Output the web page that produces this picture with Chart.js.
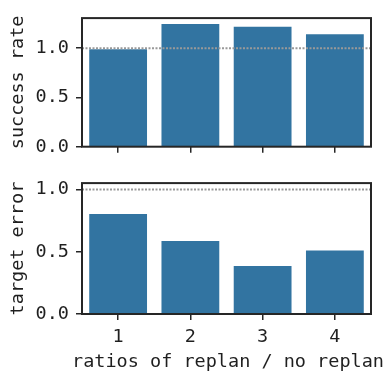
<!DOCTYPE html>
<html>
<head>
<meta charset="utf-8">
<script src="https://cdn.jsdelivr.net/npm/chart.js@4/dist/chart.umd.min.js"></script>
<style>
  html, body { margin: 0; padding: 0; background: #fff; }
  #wrap { position: relative; width: 385px; height: 373px; overflow: hidden; }
  canvas { position: absolute; left: 0; }
</style>
</head>
<body>
<div id="wrap">
  <canvas id="top" width="385" height="165" style="top:0"></canvas>
  <canvas id="bot" width="385" height="208" style="top:165px"></canvas>
</div>
<script>
// ---- data ----
const categories = ['1', '2', '3', '4'];
const successRate = [0.99, 1.245, 1.218, 1.141];
const targetError = [0.802, 0.586, 0.385, 0.509];
const yTickValues = [0, 0.5, 1.0];
const referenceValue = 1.0;
const successMax = 1.305;
const errorMax = 1.051;
const successTitle = 'success rate';
const errorTitle = 'target error';
const xTitle = 'ratios of replan / no replan';

// ---- style ----
const BAR = '#3274a1';
const INK = '#1f1f1f';
const FONT = 'DejaVu Sans Mono';
const FS_TICK = 18.5;
const FS_TITLE = 18.5;
Chart.defaults.font.family = FONT;
Chart.defaults.font.size = FS_TICK;
Chart.defaults.color = INK;

const framePlugin = {
  id: 'frame',
  afterDatasetsDraw(chart) {
    const { ctx, chartArea: a, scales } = chart;
    const y = scales.y.getPixelForValue(referenceValue);
    ctx.save();
    ctx.strokeStyle = '#999999';
    ctx.lineWidth = 2;
    ctx.setLineDash([2, 1.5]);
    ctx.beginPath();
    ctx.moveTo(a.left, y);
    ctx.lineTo(a.right, y);
    ctx.stroke();
    ctx.setLineDash([]);
    ctx.strokeStyle = '#262626';
    ctx.lineWidth = 2;
    ctx.strokeRect(a.left, a.top, a.right - a.left, a.bottom - a.top);
    ctx.restore();
  }
};

// x-axis title drawn without the scale's width clamp (text is wider than the plot area)
const xTitlePlugin = {
  id: 'xTitleFree',
  afterDraw(chart) {
    const { ctx, chartArea: a } = chart;
    ctx.save();
    ctx.font = FS_TITLE + 'px "' + FONT + '"';
    ctx.fillStyle = INK;
    ctx.textAlign = 'center';
    ctx.textBaseline = 'middle';
    ctx.fillText(xTitle, 228, chart.height - 11);
    ctx.restore();
  }
};

function makeChart(id, values, yMax, yTitle, showXLabels, padTop, xHeight) {
  return new Chart(document.getElementById(id), {
    type: 'bar',
    data: {
      labels: categories,
      datasets: [{
        data: values,
        backgroundColor: BAR,
        borderWidth: 0,
        categoryPercentage: 1.0,
        barPercentage: 0.8
      }]
    },
    options: {
      responsive: false,
      animation: false,
      devicePixelRatio: 1,
      layout: { padding: { top: padTop, right: 14, bottom: 0, left: 0 } },
      plugins: { legend: { display: false }, tooltip: { enabled: false } },
      scales: {
        x: {
          offset: true,
          grid: { display: true, drawOnChartArea: false, drawTicks: true, tickLength: 6, color: '#262626', lineWidth: 1.5, offset: false },
          border: { display: false },
          ticks: { color: showXLabels ? INK : 'rgba(0,0,0,0)', padding: 6, maxRotation: 0, font: { size: FS_TICK } },
          title: { display: false },
          afterFit(scale) { scale.height = xHeight; }
        },
        y: {
          min: 0,
          max: yMax,
          grid: { display: true, drawOnChartArea: false, drawTicks: true, tickLength: 6, color: '#262626', lineWidth: 1.5 },
          border: { display: false },
          ticks: {
            includeBounds: false,
            padding: 7,
            color: INK,
            font: { size: FS_TICK },
            callback: (v) => Number(v).toFixed(1)
          },
          afterBuildTicks(scale) { scale.ticks = yTickValues.map(v => ({ value: v })); },
          title: { display: true, text: yTitle, color: INK, font: { size: FS_TITLE }, padding: { top: 7, bottom: 0 } },
          afterFit(scale) { scale.width = 82; }
        }
      }
    },
    plugins: showXLabels ? [framePlugin, xTitlePlugin] : [framePlugin]
  });
}

makeChart('top', successRate, successMax, successTitle, false, 11, 165 - 146.7);
makeChart('bot', targetError, errorMax, errorTitle, true, 12.7, 208 - 149);
</script>
</body>
</html>
